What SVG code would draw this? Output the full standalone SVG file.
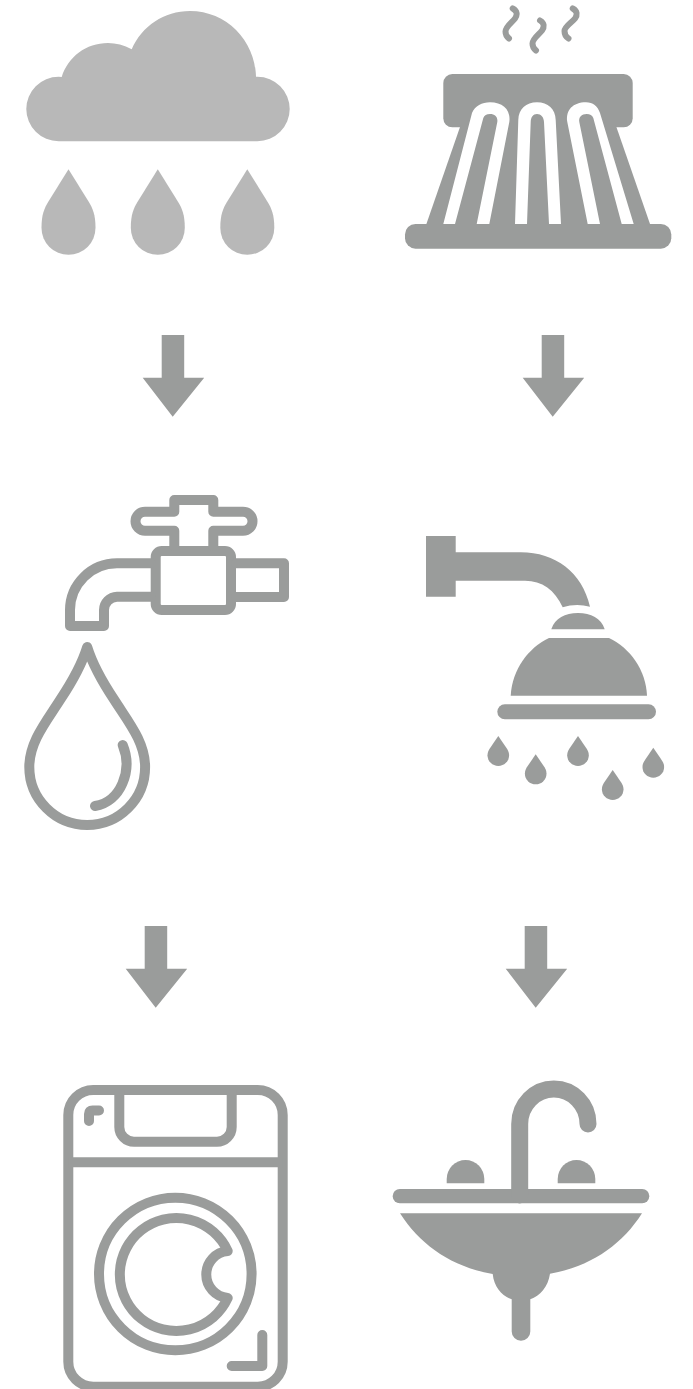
<svg xmlns="http://www.w3.org/2000/svg" xmlns:xlink="http://www.w3.org/1999/xlink" width="693" height="1389" viewBox="0 0 693 1389">
<style>
.f{fill:#9a9c9b}
.c{fill:#b8b8b8}
.s{fill:none;stroke:#9a9c9b;stroke-width:10;stroke-linecap:round;stroke-linejoin:round}
.b{stroke-linecap:butt}
.w{fill:#fff}
.st{fill:none;stroke:#9a9c9b;stroke-width:6;stroke-linecap:round;stroke-linejoin:round}
</style>
<defs>
<path id="rain" d="M0 0L20.5 33C24 39 27 45 27 58.5A27 27 0 0 1-27 58.5C-27 45-24 39-20.5 33Z"/>
<path id="dr" d="M0 0L7.5 11C9.5 14 10.8 16 10.8 19.2A10.8 10.8 0 0 1-10.8 19.2C-10.8 16-9.5 14-7.5 11Z"/>
<path id="arrow" d="M-11 0H11.5V42.7H31.5L0 81.7L-30 42.7H-11Z"/>
</defs>
<rect width="693" height="1389" fill="#fff"/>
<g id="cloud">
<path class="c" d="M58.6 141.3A32.3 32.3 0 0 1 58.6 76.7Q60 76.7 61.7 77C68 57 86 43 108 43Q120 43 131.7 49.3C142 26 164 11 190 11C226 11 255 40 256 76.7Q256.5 76.7 257.4 76.7A32.3 32.3 0 0 1 257.4 141.3Z"/>
<use class="c" href="#rain" x="68.5" y="169.3"/>
<use class="c" href="#rain" x="157.8" y="169.3"/>
<use class="c" href="#rain" x="247.3" y="169.3"/>
</g>
<g id="radiator">
<rect class="f" x="443.3" y="74" width="189.4" height="53.3" rx="9"/>
<path class="f" d="M460.7 125L425.7 226H650.7L615.7 125Z"/>
<rect class="f" x="405" y="224" width="266.3" height="24.7" rx="10.5"/>
<path class="w" d="M443.3 224L472 113C475 106 482 102.3 490 102.3C503 102.3 511 110 509.3 122L489.3 224H476.7L497.3 122C498 117 495 114 490 114C486.5 114 484.3 115.5 483.3 118L455 224Z"/>
<path class="w" d="M515 224L518.3 120C518.6 109 526 102.3 537 102.3C548 102.3 555.4 109 555.7 120L561 224H549L544 122C543.8 117 541 114 537 114C533 114 530.9 117 530.7 122L527 224Z"/>
<path class="w" d="M587.7 224L567.3 122C565.5 110 573 102.3 586 102.3C593 102.3 597.5 106 600 113L633.7 224H621.7L593.3 118C592.3 115.5 590 114 586.7 114C581.5 114 578.5 117 579.3 122L600 224Z"/>
<path class="st" d="M512.7 8.5C517.5 11 517.5 15 515 18.5C512 22.5 505.5 26.5 505.5 31.5C505.5 35 507 37 509 38.5"/>
<path class="st" d="M540 20.5C544.5 23 544.5 27 542 30.5C539 34.5 532.5 38.5 532.5 43.5C532.5 47 534 49 536 50.5"/>
<path class="st" d="M572.7 8.5C577.5 11 577.5 15 575 18.5C572 22.5 564.5 26.5 564.5 31C564.5 35 566 37 568.5 38.5"/>
</g>
<g id="connectors">
<use class="f" href="#arrow" x="172.7" y="335"/>
<use class="f" href="#arrow" x="552.7" y="335"/>
<use class="f" href="#arrow" x="155.7" y="926"/>
<use class="f" href="#arrow" x="535.7" y="926"/>
</g>
<g id="tap">
<rect class="s" x="155.7" y="551" width="75.3" height="59" rx="6"/>
<path class="s" d="M236 563.3H284V597H236"/>
<path class="s" d="M151 563.3H117A47 47 0 0 0 70 610V626H104V610A13.3 13.3 0 0 1 117 596.7H151"/>
<path class="s" d="M174.3 546V530.7H145A9.5 9.5 0 0 1 145 511.7H174.3V500H213.3V511.7H243A9.5 9.5 0 0 1 243 530.7H213.3V546"/>
<path class="s" d="M87.2 647C82 664 72 682 60 700C46 722 29.3 742 29.3 767A57.9 58 0 0 0 145.1 767C145.1 742 128.4 722 114.4 700C102.4 682 92.4 664 87.2 647Z"/>
<path class="s" d="M122.7 745C133 770 121 802 95 806"/>
</g>
<g id="shower">
<path class="f" d="M426 536H455.7V552.3H520C555 552 582 572 590 606.7Q576 603 562.7 607.3C555 590 542 580.7 525 580.7H455.7V596.7H426Z"/>
<path class="f" d="M551.3 629.3C555 618 565 613 578 613C591 613 601 618 604.7 629.3Z"/>
<path class="f" d="M510.7 695.7C512 670 528 648 549 638H609C630 648 646 670 647 695.7Z"/>
<rect class="f" x="497.3" y="704.3" width="158.7" height="15" rx="7.5"/>
<use class="f" href="#dr" x="498.3" y="736"/>
<use class="f" href="#dr" x="535.7" y="754.3"/>
<use class="f" href="#dr" x="578" y="736"/>
<use class="f" href="#dr" x="612.7" y="770"/>
<use class="f" href="#dr" x="653.3" y="747.7"/>
</g>
<g id="washer">
<rect class="s" x="68.3" y="1090" width="214.4" height="296.7" rx="25"/>
<path class="s b" d="M68.3 1162.3H282.7"/>
<path class="s b" d="M119.3 1090V1127A14.7 14.7 0 0 0 134 1141.7H217A14.7 14.7 0 0 0 231.7 1127V1090"/>
<path class="s" d="M89 1121V1114Q89 1110.5 92.5 1110.5H99"/>
<circle class="s" cx="175.3" cy="1274" r="76.3"/>
<path class="s" d="M227.7 1251A56.5 56.5 0 1 0 227.7 1298A23.6 23.6 0 0 1 227.7 1251Z"/>
<path class="s" d="M262.3 1335V1366H231.7"/>
</g>
<g id="sink">
<path class="f" d="M400 1213.3H642C622 1245 590 1267 550 1273.7C548 1287 540 1296 530.3 1299.3V1331.4A9.3 9.3 0 0 1 511.7 1331.4V1299.3C502 1296 494 1287 492.7 1274C452 1267 420 1245 400 1213.3Z"/>
<rect class="f" x="392.7" y="1189" width="256.6" height="14.3" rx="7.1"/>
<path d="M519.7 1195V1124A34.15 35 0 0 1 588 1124" fill="none" stroke="#9a9c9b" stroke-width="17" stroke-linecap="round"/>
<path class="f" d="M446.7 1183.3V1179A18.8 19 0 0 1 484.3 1179V1183.3Z"/>
<path class="f" d="M557.7 1183.3V1179A18.8 19 0 0 1 595.3 1179V1183.3Z"/>
</g>
</svg>
